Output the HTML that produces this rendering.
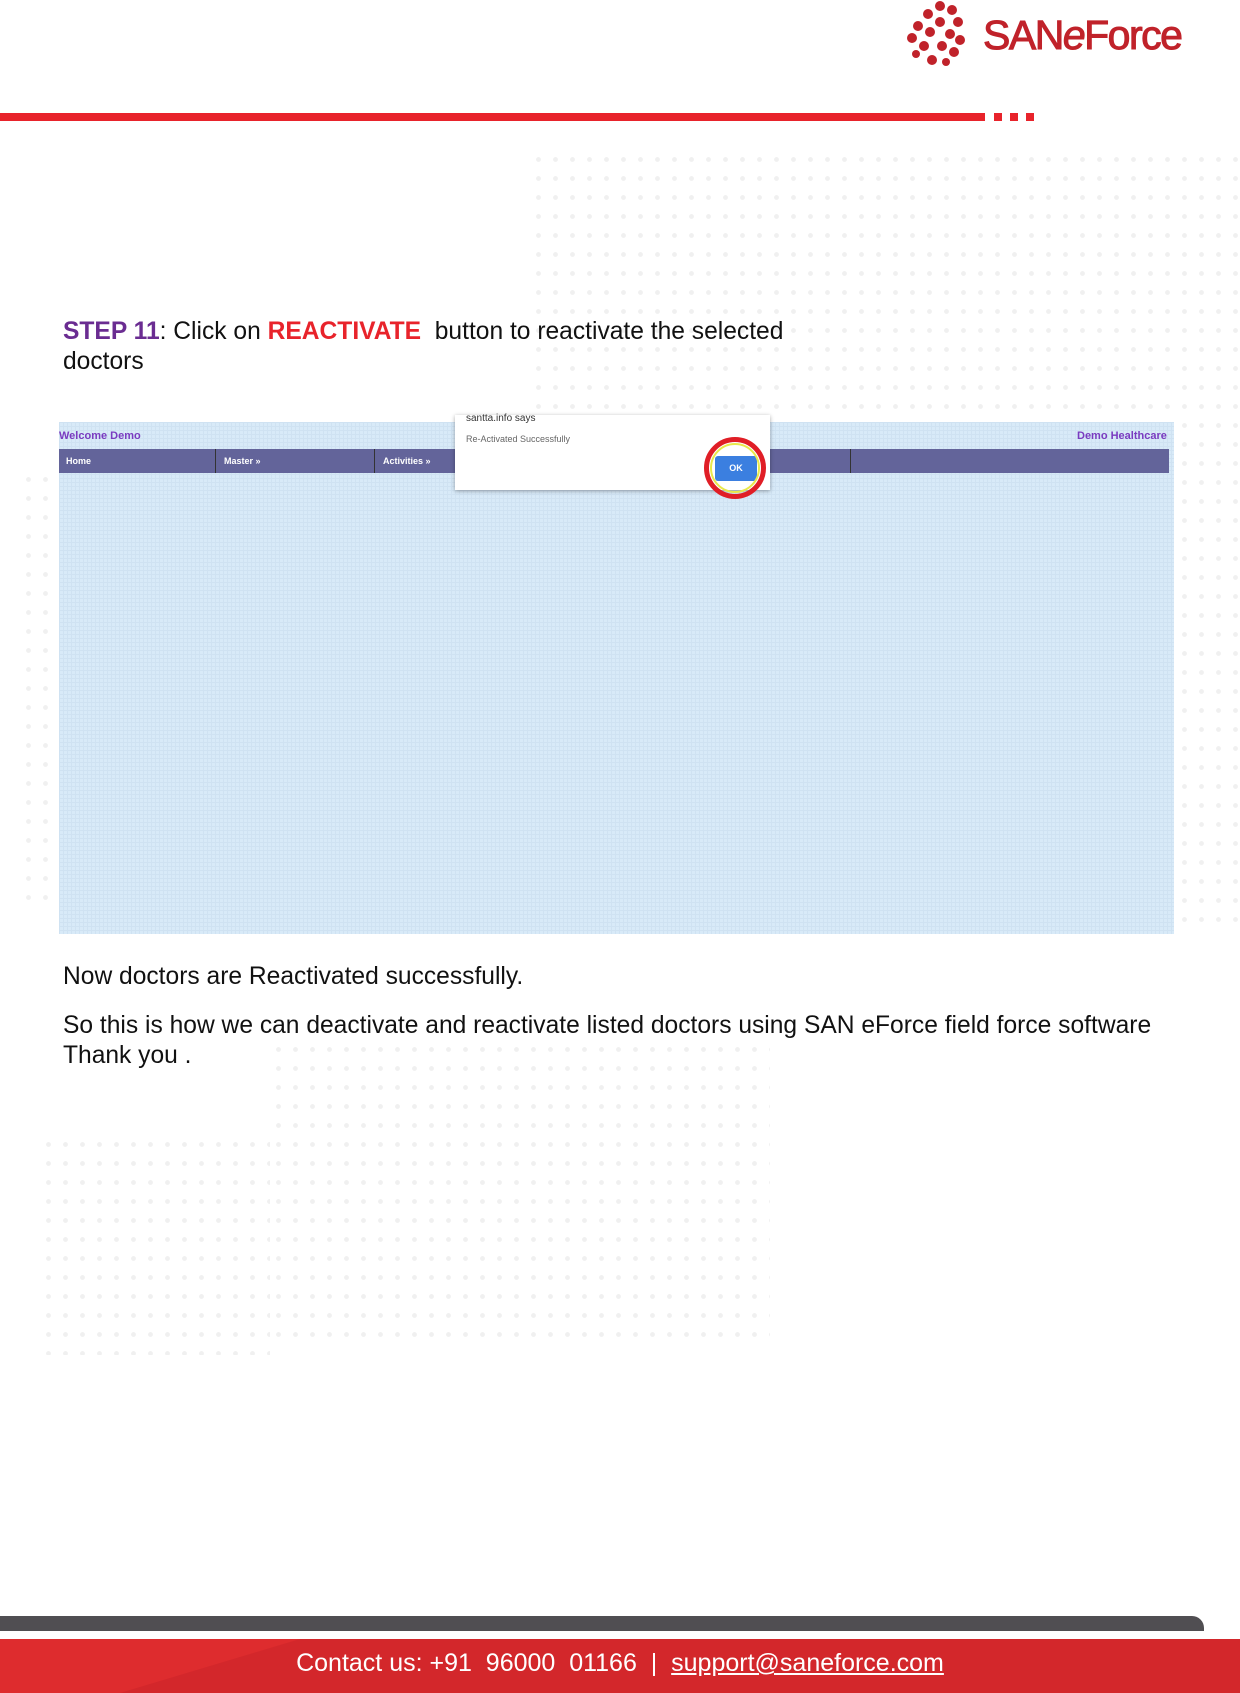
<!DOCTYPE html>
<html><head><meta charset="utf-8"><style>
*{margin:0;padding:0;box-sizing:border-box}
body{width:1240px;height:1693px;position:relative;background:#fff;font-family:"Liberation Sans",sans-serif;overflow:hidden}
.a{position:absolute}
.dots{background-image:radial-gradient(circle,#f0f0f0 2.2px,transparent 2.6px);background-size:17px 19px}
.t{font-size:24.6px;color:#111;letter-spacing:0;white-space:nowrap}
</style></head><body>
<div class="a dots" style="left:530px;top:150px;width:710px;height:780px"></div>
<div class="a dots" style="left:20px;top:470px;width:40px;height:440px"></div>
<div class="a dots" style="left:270px;top:1040px;width:500px;height:300px"></div>
<div class="a dots" style="left:40px;top:1135px;width:230px;height:220px"></div>

<svg class="a" style="left:900px;top:0" width="80" height="70">
<g fill="#c0222a">
<circle cx="40" cy="6" r="5"/><circle cx="52" cy="10" r="5"/><circle cx="28" cy="14" r="5"/><circle cx="58" cy="22" r="5"/><circle cx="40" cy="22" r="5"/><circle cx="18" cy="26" r="5"/><circle cx="30" cy="32" r="5"/><circle cx="50" cy="34" r="5"/><circle cx="12" cy="38" r="5"/><circle cx="60" cy="40" r="5"/><circle cx="24" cy="46" r="5"/><circle cx="42" cy="46" r="5"/><circle cx="16" cy="54" r="4"/><circle cx="54" cy="52" r="5"/><circle cx="32" cy="60" r="5"/><circle cx="46" cy="62" r="4"/>
</g></svg>
<div class="a" style="left:983px;top:12px;font-size:41px;color:#c0222a;letter-spacing:-1.5px;-webkit-text-stroke:1px #c0222a">SAN<i>e</i>Force</div>

<div class="a" style="left:0;top:113px;width:985px;height:8px;background:#e8232b"></div>
<div class="a" style="left:994px;top:113px;width:8px;height:8px;background:#e8232b"></div>
<div class="a" style="left:1010px;top:113px;width:8px;height:8px;background:#e8232b"></div>
<div class="a" style="left:1026px;top:113px;width:8px;height:8px;background:#e8232b"></div>

<div class="a t" style="left:63px;top:318px"><b style="color:#6a2c91">STEP 11</b>: Click on <b style="color:#e8232b">REACTIVATE</b>&nbsp; button to reactivate the selected</div>
<div class="a t" style="left:63px;top:348px">doctors</div>

<div class="a" style="left:59px;top:422px;width:1115px;height:512px;background:#d8eaf8;background-image:linear-gradient(#cfe2f2 1px,transparent 1px),linear-gradient(90deg,#cfe2f2 1px,transparent 1px);background-size:4px 4px"></div>
<div class="a" style="left:59px;top:430px;font-size:11px;font-weight:bold;color:#7a3bc0">Welcome Demo</div>
<div class="a" style="left:1077px;top:430px;font-size:11px;font-weight:bold;color:#7a3bc0">Demo Healthcare</div>
<div class="a" style="left:59px;top:449px;width:1110px;height:24px;background:#63649a"></div>
<div class="a" style="left:215px;top:449px;width:1px;height:24px;background:#333"></div>
<div class="a" style="left:374px;top:449px;width:1px;height:24px;background:#333"></div>
<div class="a" style="left:850px;top:449px;width:1px;height:24px;background:#333"></div>
<div class="a" style="left:66px;top:456px;font-size:9px;color:#fff;font-weight:bold">Home</div>
<div class="a" style="left:224px;top:456px;font-size:9px;color:#fff;font-weight:bold">Master »</div>
<div class="a" style="left:383px;top:456px;font-size:9px;color:#fff;font-weight:bold">Activities »</div>
<div class="a" style="left:455px;top:415px;width:315px;height:75px;background:#fff;box-shadow:0 1px 4px rgba(0,0,0,.35)"></div>
<div class="a" style="left:466px;top:413px;font-size:10px;color:#333">santta.info says</div>
<div class="a" style="left:466px;top:434px;font-size:9px;color:#666">Re-Activated Successfully</div>
<div class="a" style="left:715px;top:456px;width:42px;height:25px;background:#3b7fe0;border-radius:3px;color:#fff;font-size:9px;font-weight:bold;text-align:center;line-height:25px">OK</div>
<div class="a" style="left:704px;top:437px;width:62px;height:62px;border-radius:50%;border:5px solid #e01e26"></div>
<div class="a" style="left:710px;top:443px;width:50px;height:50px;border-radius:50%;border:2px solid #e8e84a"></div>

<div class="a t" style="left:63px;top:963px">Now doctors are Reactivated successfully.</div>
<div class="a t" style="left:63px;top:1012px">So this is how we can deactivate and reactivate listed doctors using SAN eForce field force software</div>
<div class="a t" style="left:63px;top:1042px">Thank you .</div>

<div class="a" style="left:0;top:1616px;width:1204px;height:15px;background:#504e52;border-radius:0 12px 0 0"></div>
<div class="a" style="left:0;top:1639px;width:1240px;height:54px;background:#d3272b"></div>
<div class="a" style="left:0;top:1639px;width:300px;height:54px;background:#de2c2e;clip-path:polygon(0 0,100% 0,40% 100%,0 100%)"></div>
<div class="a" style="left:0;top:1649px;width:1240px;text-align:center;font-size:25px;color:#fff">Contact us: +91&nbsp; 96000&nbsp; 01166&nbsp; |&nbsp; <u>support@saneforce.com</u></div>
</body></html>
